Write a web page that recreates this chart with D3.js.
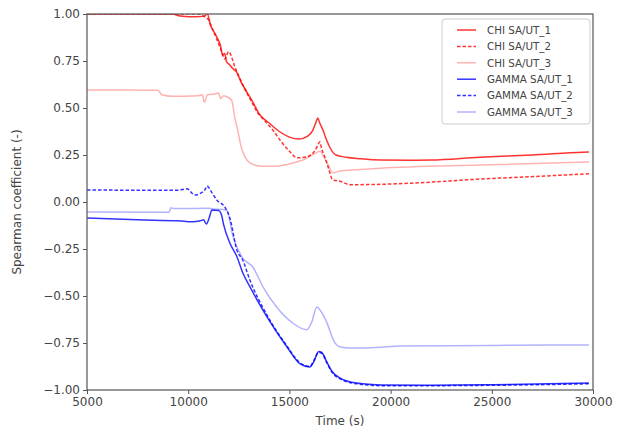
<!DOCTYPE html>
<html><head><meta charset="utf-8">
<script src="https://cdn.jsdelivr.net/npm/d3@7"></script>
<style>body{margin:0;background:#fff}text{font-family:"DejaVu Sans",sans-serif}</style>
</head><body><svg id="c" width="622" height="436"></svg>
<script>
const xTicks=[5000,10000,15000,20000,25000,30000];
const yTicks=[-1.00,-0.75,-0.50,-0.25,0.00,0.25,0.50,0.75,1.00];
const seriesNames=["CHI SA/UT_1","CHI SA/UT_2","CHI SA/UT_3","GAMMA SA/UT_1","GAMMA SA/UT_2","GAMMA SA/UT_3"];
const chi1=[[5000,1.0],[9200,1.0],[9600,0.99],[10400,0.985],[10800,0.99],[10950,1.0],[11100,0.94],[11300,0.9],[11450,0.87],[11600,0.83],[11700,0.78],[11800,0.79],[11900,0.745],[12050,0.73],[12200,0.71],[12400,0.69],[12600,0.64],[12900,0.585],[13200,0.53],[13500,0.47],[14000,0.42],[14500,0.375],[15000,0.345],[15500,0.335],[15900,0.35],[16150,0.38],[16300,0.42],[16400,0.447],[16500,0.42],[16650,0.385],[16800,0.34],[17000,0.29],[17300,0.25],[17800,0.238],[18500,0.23],[19500,0.223],[21000,0.222],[22000,0.223],[24400,0.238],[27000,0.25],[29500,0.265],[29800,0.266]];
const chi2=[[5000,1.0],[10500,1.0],[10700,0.99],[11000,0.97],[11200,0.92],[11400,0.87],[11650,0.8],[11800,0.76],[12000,0.8],[12150,0.77],[12300,0.72],[12500,0.67],[12800,0.6],[13100,0.54],[13400,0.48],[13800,0.43],[14200,0.38],[14600,0.32],[15000,0.27],[15400,0.235],[15850,0.24],[16200,0.265],[16400,0.3],[16500,0.32],[16600,0.28],[16750,0.24],[16900,0.19],[17150,0.117],[17500,0.11],[18000,0.092],[19000,0.093],[21000,0.1],[24400,0.122],[27000,0.135],[29800,0.15]];
const chi3=[[5000,0.596],[8500,0.595],[8700,0.57],[9200,0.562],[10500,0.565],[10700,0.57],[10800,0.53],[10950,0.57],[11300,0.575],[11500,0.58],[11600,0.55],[11750,0.565],[11900,0.56],[12150,0.54],[12300,0.45],[12450,0.38],[12600,0.3],[12800,0.24],[13100,0.205],[13500,0.192],[14000,0.19],[14500,0.192],[15100,0.205],[15800,0.23],[16300,0.26],[16500,0.27],[16700,0.24],[16900,0.2],[17150,0.155],[17500,0.165],[18100,0.17],[19500,0.18],[24400,0.197],[29800,0.213]];
const gam1=[[5000,-0.085],[7500,-0.095],[9500,-0.1],[10200,-0.105],[10600,-0.1],[10750,-0.095],[10900,-0.117],[11050,-0.08],[11170,-0.043],[11500,-0.045],[11650,-0.07],[11750,-0.12],[12058,-0.218],[12404,-0.29],[12700,-0.378],[13046,-0.45],[13885,-0.61],[14872,-0.77],[15514,-0.86],[16007,-0.878],[16200,-0.85],[16450,-0.795],[16600,-0.8],[16846,-0.85],[17100,-0.9],[17488,-0.935],[18327,-0.963],[19611,-0.973],[22000,-0.975],[25000,-0.972],[29800,-0.963]];
const gam2=[[5000,0.064],[9440,0.062],[9936,0.07],[10330,0.037],[10578,0.045],[10850,0.07],[10923,0.085],[11170,0.05],[11417,0.01],[11812,-0.027],[12058,-0.085],[12404,-0.255],[12700,-0.31],[13046,-0.415],[13885,-0.6],[14872,-0.765],[15514,-0.855],[16007,-0.875],[16200,-0.845],[16450,-0.8],[16600,-0.805],[16846,-0.855],[17100,-0.905],[17488,-0.94],[18327,-0.967],[19611,-0.977],[22000,-0.977],[25000,-0.975],[29800,-0.967]];
const gam3=[[5000,-0.053],[9050,-0.055],[9150,-0.03],[9300,-0.035],[11000,-0.033],[11219,-0.037],[11700,-0.04],[11910,-0.045],[12207,-0.18],[12700,-0.3],[13194,-0.346],[13688,-0.45],[14379,-0.56],[15168,-0.644],[15859,-0.68],[16100,-0.64],[16353,-0.558],[16550,-0.58],[16846,-0.64],[17200,-0.74],[17488,-0.77],[18000,-0.777],[19500,-0.772],[20450,-0.766],[25000,-0.763],[29800,-0.76]];

const series=[
 {name:seriesNames[0],data:chi1,color:"#ff0000",op:0.8,dash:null},
 {name:seriesNames[1],data:chi2,color:"#ff0000",op:0.8,dash:"3.5,2"},
 {name:seriesNames[2],data:chi3,color:"#ff0000",op:0.3,dash:null},
 {name:seriesNames[3],data:gam1,color:"#0000ff",op:0.8,dash:null},
 {name:seriesNames[4],data:gam2,color:"#0000ff",op:0.8,dash:"3.5,2"},
 {name:seriesNames[5],data:gam3,color:"#0000ff",op:0.3,dash:null}
];
const L=87,R=593,T=14,B=390;
const svg=d3.select("#c");
const x=d3.scaleLinear().domain([5000,30000]).range([L,R]);
const y=d3.scaleLinear().domain([-1,1]).range([B,T]);
svg.append("clipPath").attr("id","cp").append("rect").attr("x",L).attr("y",T).attr("width",R-L).attr("height",B-T);
const line=d3.line().x(d=>x(d[0])).y(d=>y(d[1])).curve(d3.curveMonotoneX);
const g=svg.append("g").attr("clip-path","url(#cp)");
series.forEach(s=>{
  g.append("path").attr("d",line(s.data)).attr("fill","none").attr("stroke",s.color)
   .attr("stroke-opacity",s.op).attr("stroke-width",1.5).attr("stroke-dasharray",s.dash);
});
const ax=svg.append("g").attr("transform",`translate(0,${B})`).call(d3.axisBottom(x).tickValues(xTicks).tickFormat(d3.format("d")).tickSizeOuter(0).tickSize(4).tickPadding(3));
const ay=svg.append("g").attr("transform",`translate(${L},0)`).call(d3.axisLeft(y).tickValues(yTicks).tickFormat(d=>d3.format(".2f")(d).replace("-","\u2212")).tickSizeOuter(0).tickSize(4).tickPadding(3));
[ax,ay].forEach(a=>{a.select(".domain").remove();a.selectAll("line").attr("stroke","#555");a.selectAll("text").attr("font-size",12).attr("fill","#444").attr("font-family","DejaVu Sans");});
svg.append("rect").attr("x",L).attr("y",T).attr("width",R-L).attr("height",B-T).attr("fill","none").attr("stroke","#555").attr("stroke-width",1.2);
svg.append("text").attr("x",(L+R)/2).attr("y",425).attr("text-anchor","middle").attr("font-size",12).attr("fill","#444").text("Time (s)");
svg.append("text").attr("transform",`translate(21,${(T+B)/2}) rotate(-90)`).attr("text-anchor","middle").attr("font-size",12).attr("fill","#444").text("Spearman coefficient (-)");
const lg=svg.append("g");
lg.append("rect").attr("x",442).attr("y",19).attr("width",148).attr("height",105).attr("rx",3).attr("fill","#fff").attr("fill-opacity",0.8).attr("stroke","#ccc");
series.forEach((s,i)=>{
  const yy=30+i*16.4;
  lg.append("line").attr("x1",457).attr("x2",476).attr("y1",yy).attr("y2",yy).attr("stroke",s.color).attr("stroke-opacity",s.op).attr("stroke-width",1.5).attr("stroke-dasharray",s.dash);
  lg.append("text").attr("x",487).attr("y",yy+3.8).attr("font-size",10.3).attr("fill","#444").text(s.name);
});
</script></body></html>
